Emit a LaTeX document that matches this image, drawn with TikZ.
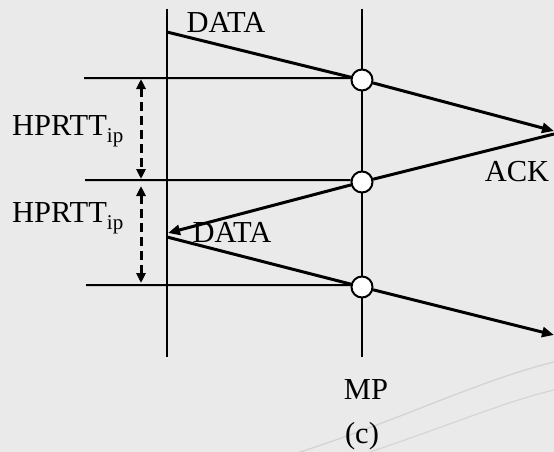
\documentclass[tikz,border=0pt]{standalone}
\usepackage{fontspec}
\setmainfont{Liberation Serif}
\usetikzlibrary{arrows.meta}
\definecolor{paper}{RGB}{234,234,234}
\definecolor{streak}{RGB}{200,200,200}
\begin{document}
\begin{tikzpicture}[x=1pt,y=-1pt,
  lbl/.style={inner sep=0pt,anchor=base,font=\fontsize{30.5}{35}\selectfont},
  lbll/.style={lbl,anchor=base west},
  axis/.style={line width=2pt},
  tick/.style={line width=2pt},
  msg/.style={line width=3pt},
  tip/.style={-{Triangle[length=12pt,width=10pt]}},
  span/.style={line width=3pt,dash pattern=on 9pt off 5pt,
    {Triangle[length=10pt,width=9pt]}-{Triangle[length=10pt,width=9pt]}},
  probe/.style={circle,draw,fill=white,line width=2pt,minimum size=21pt,inner sep=0pt}]
  % paper background
  \fill[paper] (0,0) rectangle (554,452);
  \useasboundingbox (0,0) rectangle (554,452);
  \draw[streak,line width=1.2pt,opacity=.7] (300,452) .. controls (400,420) and (480,380) .. (554,362);
  \draw[streak,line width=1.2pt,opacity=.6] (370,452) .. controls (450,425) and (510,400) .. (554,390);

  % time lines: sender and measurement point
  \coordinate (st) at (167,9);
  \coordinate (sb) at (167,357);
  \coordinate (mt) at (362,9);
  \coordinate (mb) at (362,357);
  \draw[axis] (st) -- (sb);
  \draw[axis] (mt) -- (mb);

  % observation points on MP
  \node[probe] (c1) at (362,80) {};
  \node[probe] (c2) at (362,182) {};
  \node[probe] (c3) at (362,287) {};

  % reference levels
  \coordinate (h1) at (84,78.2);
  \coordinate (h2) at (85,180.2);
  \coordinate (h3) at (86,285.2);
  \draw[tick] (h1) -- (c1.170);
  \draw[tick] (h2) -- (c2.170);
  \draw[tick] (h3) -- (c3.170);

  % message exchange
  \coordinate (d1) at (167,32);
  \coordinate (r1) at (554,131);
  \coordinate (r2) at (554,134);
  \coordinate (l2) at (168,233);
  \coordinate (d2) at (167,237);
  \coordinate (r3) at (554,335);
  \draw[msg] (d1) -- (c1);
  \draw[msg,tip] (c1) -- (r1);
  \draw[msg] (r2) -- (c2);
  \draw[msg,tip] (c2) -- (l2);
  \draw[msg] (d2) -- (c3);
  \draw[msg,tip] (c3) -- (r3);

  % HPRTT intervals
  \coordinate (a1) at (141,79);
  \coordinate (b1) at (141,179);
  \coordinate (a2) at (141,186);
  \coordinate (b2) at (141,283);
  \draw[span] (a1) -- (b1);
  \draw[span] (a2) -- (b2);

  % labels
  \node[lbl] (tdata) at (226,33) {DATA};
  \node[lbl] (tdata2) at (232,242) {DATA};
  \node[lbl] (tack) at (517,181) {ACK};
  \node[lbl] (tmp) at (366,399) {MP};
  \node[lbl] (tc) at (362,443) {(c)};
  \node[lbll] (th1) at (12,135) {HPRTT\raisebox{-7pt}{\fontsize{21}{21}\selectfont ip}};
  \node[lbll] (th2) at (12,222) {HPRTT\raisebox{-7pt}{\fontsize{21}{21}\selectfont ip}};
\end{tikzpicture}
\end{document}
